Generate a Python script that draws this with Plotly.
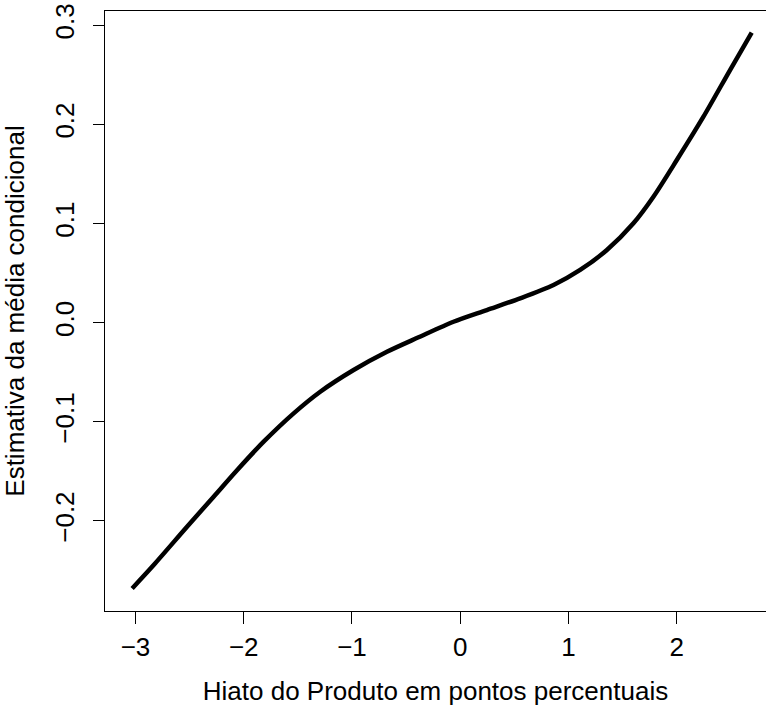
import plotly.graph_objects as go

# Curve (x: output gap in p.p., y: conditional-mean estimate)
hiato = [-3.031, -2.832, -2.524, -2.278, -2.062, -1.816, -1.539, -1.293, -0.985,
         -0.677, -0.385, -0.062, 0.246, 0.554, 0.862, 1.108, 1.355, 1.600,
         1.785, 2.001, 2.247, 2.493, 2.693]
media = [-0.268, -0.2444, -0.2058, -0.1755, -0.1488, -0.1200, -0.0914, -0.0696, -0.0477,
         -0.0293, -0.0147, 0.0010, 0.0128, 0.0246, 0.0380, 0.0532, 0.0733, 0.1003,
         0.1271, 0.1641, 0.2078, 0.2549, 0.2925]

x_ticks = [-3, -2, -1, 0, 1, 2]
x_ticktext = ["\u22123", "\u22122", "\u22121", "0", "1", "2"]
y_ticks = [-0.2, -0.1, 0.0, 0.1, 0.2, 0.3]
y_ticktext = ["\u22120.2", "\u22120.1", "0.0", "0.1", "0.2", "0.3"]

FONT = "Liberation Sans, Arial, Helvetica, sans-serif"
FS = 26

fig = go.Figure()
fig.add_trace(go.Scatter(x=hiato, y=media, mode="lines",
                         line=dict(color="black", width=4.5, shape="spline", smoothing=0.8),
                         hoverinfo="skip", showlegend=False))

fig.update_layout(
    width=766, height=706,
    margin=dict(l=105, r=0, t=11, b=95),
    paper_bgcolor="white", plot_bgcolor="white",
    font=dict(family=FONT, size=FS, color="black"),
    xaxis=dict(
        range=[-3.2818, 2.825], showgrid=False, zeroline=False, automargin=False,
        showline=True, linecolor="black", linewidth=1, mirror=True,
        ticks="outside", ticklen=12, tickwidth=1, tickcolor="black",
        tickvals=x_ticks, ticktext=x_ticktext, ticklabelstandoff=1,
        tickfont=dict(family=FONT, size=FS, color="black"),
        title=dict(text="Hiato do Produto em pontos percentuais",
                   font=dict(family=FONT, size=FS, color="black"), standoff=22),
    ),
    yaxis=dict(
        range=[-0.29079, 0.31442], showgrid=False, zeroline=False, automargin=False,
        showline=True, linecolor="black", linewidth=1, mirror=False,
        ticks="outside", ticklen=11, tickwidth=1, tickcolor="black",
        tickvals=y_ticks, ticktext=y_ticktext, tickangle=-90, ticklabelstandoff=9,
        tickfont=dict(family=FONT, size=FS, color="black"),
        title=dict(text="Estimativa da média condicional",
                   font=dict(family=FONT, size=FS, color="black"), standoff=18),
    ),
)

fig.write_html("out.html", config={"displayModeBar": False},
               post_script="document.body.style.margin='0';document.body.style.overflow='hidden';")
